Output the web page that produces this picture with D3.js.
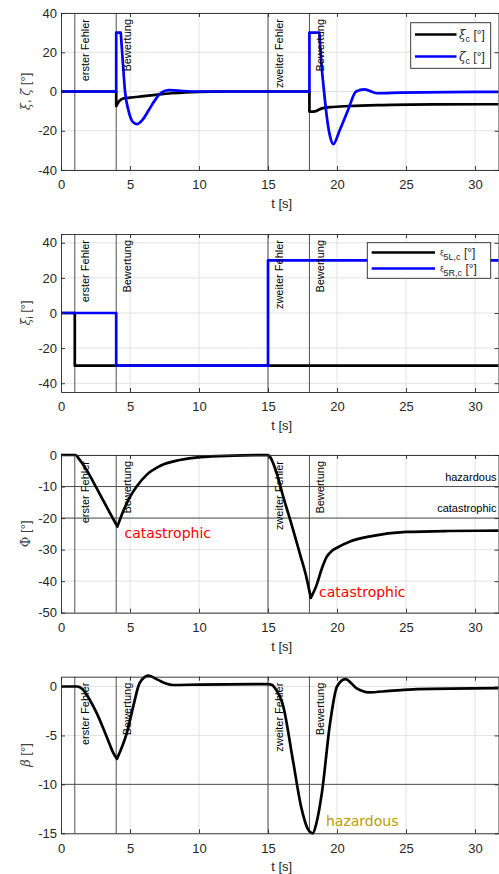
<!DOCTYPE html>
<html><head><meta charset="utf-8">
<script src="https://cdn.jsdelivr.net/npm/d3@7"></script>
<style>body{margin:0;background:#fff} svg{display:block}</style>
</head><body>
<svg id="c" width="499" height="874"></svg>
<script>
// ---------- data ----------
const tMax = 31.7;
const xTicks = [0, 5, 10, 15, 20, 25, 30];
const eventTimes = [1, 4, 15, 18];
const eventLabels = ["erster Fehler", "Bewertung", "zweiter Fehler", "Bewertung"];

// Panel 1: xi_c (black), zeta_c (blue) — segments joined by vertical steps
const xiC = [
  [[0,0],[4,0]],
  [[4,-7.4],[4.2,-5],[4.5,-3.6],[5,-3.1],[6,-2.4],[7,-1.6],[8,-0.9],[9,-0.4],[10,-0.15],[12,0],[18,0]],
  [[18,-10.3],[18.4,-10.1],[18.9,-8.6],[19.5,-8],[20.9,-7.4],[23.3,-6.9],[27,-6.6],[31.7,-6.5]]
];
const zetaC = [
  [[0,0],[4,0]],
  [[4,30],[4.33,30]],
  [[4.33,30],[4.45,18],[4.64,0],[4.9,-10],[5.2,-15.5],[5.5,-16.6],[5.9,-14.5],[6.4,-9],[6.9,-3.5],[7.3,-0.5],[7.8,0.7],[8.5,0.4],[9.5,0],[18,0]],
  [[18,30],[18.72,30]],
  [[18.72,30],[18.86,15],[19.06,0],[19.3,-15],[19.5,-23],[19.73,-26.8],[20.2,-19.6],[20.8,-9.4],[21.38,0],[21.98,1.1],[22.9,-0.9],[24.6,-0.6],[28,-0.3],[31.7,-0.2]]
];
// Panel 2: xi_5L,c (black), xi_5R,c (blue)
const xi5L = [[[0,0],[1,0],[1,-30],[31.7,-30]]];
const xi5R = [[[0,0],[4,0],[4,-30],[15,-30],[15,30],[31.7,30]]];
// Panel 3: Phi
const phi = [
  [[0,0],[1.05,0],[1.3,-1.2],[1.86,-4.8],[2.59,-10.6],[3.3,-16.4],[4.08,-22.7]],
  [[4.08,-22.7],[4.5,-17.9],[5.0,-13.3],[5.48,-10.0],[6.2,-6.3],[7.17,-3.5],[8.6,-1.6],[10.07,-0.66],[12.5,-0.2],[15,0]],
  [[15,0],[15.15,-0.6],[15.63,-5.8],[16.1,-13.2],[16.72,-22.2],[17.3,-31.2],[17.8,-39.1],[18.1,-45.3]],
  [[18.1,-45.3],[18.5,-41.5],[18.9,-36],[19.25,-32.3],[19.6,-30.5],[20,-29.4],[20.9,-27.5],[22.5,-25.7],[25,-24.4],[28,-24.1],[31.7,-24]]
];
// Panel 4: beta
const beta = [
  [[0,0],[1.2,0],[1.5,-0.2],[2.1,-1.4],[2.58,-2.7],[3.3,-5.1],[3.8,-6.8],[4.05,-7.4]],
  [[4.05,-7.4],[4.3,-6.6],[4.76,-4.8],[5.24,-2],[5.7,0.35],[6.33,1.1],[7,0.7],[7.6,0.3],[8.1,0.15],[10,0.2],[15,0.25],
   [15.3,0.15],[15.5,-0.16],[16.1,-2],[16.8,-7.5],[17.4,-12.3],[17.9,-14.6],[18.24,-15],[18.5,-14],[18.9,-10.9],[19.5,-3.7],
   [20,0],[20.6,0.75],[21.4,-0.16],[22.3,-0.6],[23.8,-0.45],[25.8,-0.27],[31.7,-0.17]]
];

// ---------- drawing ----------
const svg = d3.select("#c");
const FONT = "'Liberation Sans', Arial, sans-serif";
const x = d3.scaleLinear().domain([0, tMax]).range([61, 498.5]);

function segPath(y, segs) {
  const line = d3.line().x(d => x(d[0])).y(d => y(d[1])).curve(d3.curveMonotoneX);
  return segs.map((s, i) => { const p = line(s); return i === 0 ? p : "L" + p.slice(1); }).join("");
}

function panel(cfg) {
  const y = d3.scaleLinear().domain(cfg.yDomain).range([cfg.bottom, cfg.top]);
  const g = svg.append("g");
  const L = x.range()[0], R = x.range()[1];
  // grid
  g.selectAll(null).data(xTicks.filter(d => d > 0)).join("line")
    .attr("x1", d => x(d)).attr("x2", d => x(d)).attr("y1", cfg.top).attr("y2", cfg.bottom)
    .attr("stroke", "#e2e2e2").attr("stroke-width", 1);
  g.selectAll(null).data(cfg.yTicks).join("line")
    .attr("x1", L).attr("x2", R).attr("y1", d => y(d)).attr("y2", d => y(d))
    .attr("stroke", "#e2e2e2").attr("stroke-width", 1);
  // threshold lines
  (cfg.thresholds || []).forEach(th => {
    g.append("line").attr("x1", L).attr("x2", R).attr("y1", y(th.v)).attr("y2", y(th.v))
      .attr("stroke", "#505050").attr("stroke-width", 1);
    if (th.label) g.append("text").attr("x", R - 2).attr("y", y(th.v) - 6).attr("text-anchor", "end")
      .attr("font-family", FONT).attr("font-size", 11).attr("fill", "#000").text(th.label);
  });
  // event lines
  g.selectAll(null).data(eventTimes).join("line")
    .attr("x1", d => x(d)).attr("x2", d => x(d)).attr("y1", cfg.top).attr("y2", cfg.bottom)
    .attr("stroke", "#505050").attr("stroke-width", 1);
  // series
  cfg.series.forEach(s => {
    g.append("path").attr("d", segPath(y, s.data)).attr("fill", "none")
      .attr("stroke", s.color).attr("stroke-width", 2.7).attr("stroke-linejoin", "round");
  });
  // event labels
  eventTimes.forEach((t, i) => {
    g.append("text").attr("transform", `translate(${x(t) + 14.5},${cfg.top + 6}) rotate(-90)`)
      .attr("text-anchor", "end").attr("font-family", FONT).attr("font-size", 11).attr("fill", "#000")
      .text(eventLabels[i]);
  });
  // axes
  const axCol = "#262626";
  const bottom = g.append("g").attr("transform", `translate(0,${cfg.bottom})`)
    .call(d3.axisBottom(x).tickValues(xTicks).tickSize(-4).tickSizeOuter(0).tickPadding(10));
  const top = g.append("g").attr("transform", `translate(0,${cfg.top})`)
    .call(d3.axisTop(x).tickValues(xTicks).tickSize(-4).tickSizeOuter(0).tickFormat(""));
  const left = g.append("g").attr("transform", `translate(${L},0)`)
    .call(d3.axisLeft(y).tickValues(cfg.yTicks).tickSize(-4).tickSizeOuter(0).tickPadding(4).tickFormat(d3.format("d")));
  const right = g.append("g").attr("transform", `translate(${R},0)`)
    .call(d3.axisRight(y).tickValues(cfg.yTicks).tickSize(-4).tickSizeOuter(0).tickFormat(""));
  [bottom, top, left, right].forEach(a => {
    a.selectAll("path,line").attr("stroke", axCol).attr("stroke-width", 0.9);
    a.selectAll("text").attr("font-family", FONT).attr("font-size", 13).attr("fill", axCol);
  });
  left.selectAll("text").text(d => (d < 0 ? "-" : "") + Math.abs(d));
  // x label
  g.append("text").attr("x", (L + R) / 2 + 2).attr("y", cfg.bottom + 38).attr("text-anchor", "middle")
    .attr("font-family", FONT).attr("font-size", 13).attr("fill", axCol).text("t [s]");
  // y label
  const yl = g.append("text").attr("transform", `translate(30,${(cfg.top + cfg.bottom) / 2}) rotate(-90)`)
    .attr("text-anchor", "middle").attr("font-family", FONT).attr("font-size", 13).attr("fill", "#404040");
  cfg.ylabel(yl);
  // annotations
  (cfg.notes || []).forEach(n => {
    g.append("text").attr("x", x(n.t)).attr("y", n.y).attr("font-family", "'DejaVu Sans', sans-serif")
      .attr("font-size", 14).attr("fill", n.color).text(n.text);
  });
  return { g, y };
}

const greek = (sel, ch) => sel.append("tspan").attr("font-family", "'DejaVu Serif', serif").attr("font-style", "italic").text(ch);

// Panel 1
const p1 = panel({
  top: 13, bottom: 170, yDomain: [-40, 40], yTicks: [-40, -20, 0, 20, 40],
  series: [{ data: xiC, color: "#000" }, { data: zetaC, color: "#0000ff" }],
  ylabel: t => { greek(t, "ξ"); t.append("tspan").text(", "); greek(t, "ζ"); t.append("tspan").text(" [°]"); }
});
// Panel 2
const p2 = panel({
  top: 234, bottom: 392, yDomain: [-45, 45], yTicks: [-40, -20, 0, 20, 40],
  series: [{ data: xi5L, color: "#000" }, { data: xi5R, color: "#0000ff" }],
  ylabel: t => { greek(t, "ξ"); t.append("tspan").attr("font-size", 9).attr("dy", 3).text("i"); t.append("tspan").attr("dy", -3).text(" [°]"); }
});
// Panel 3
const p3 = panel({
  top: 455, bottom: 612.7, yDomain: [-50, 0], yTicks: [-50, -40, -30, -20, -10, 0],
  series: [{ data: phi, color: "#000" }],
  thresholds: [{ v: -10, label: "hazardous" }, { v: -20, label: "catastrophic" }],
  notes: [{ t: 4.6, y: 538, text: "catastrophic", color: "#ff0000" }, { t: 18.7, y: 597, text: "catastrophic", color: "#ff0000" }],
  ylabel: t => { t.append("tspan").attr("font-family", "'DejaVu Serif', serif").text("Φ"); t.append("tspan").text(" [°]"); }
});
// Panel 4
const p4 = panel({
  top: 676.7, bottom: 833.3, yDomain: [-15, 1], yTicks: [-15, -10, -5, 0],
  series: [{ data: beta, color: "#000" }],
  thresholds: [{ v: -10 }],
  notes: [{ t: 19.2, y: 826, text: "hazardous", color: "#bf9a00" }],
  ylabel: t => { greek(t, "β"); t.append("tspan").text(" [°]"); }
});

// Legends
function legend(box, items) {
  const g = svg.append("g");
  g.append("rect").attr("x", box.x).attr("y", box.y).attr("width", box.w).attr("height", box.h)
    .attr("fill", "#fff").attr("stroke", "#262626").attr("stroke-width", 0.9);
  items.forEach(it => {
    g.append("line").attr("x1", box.lx1).attr("x2", box.lx2).attr("y1", it.y).attr("y2", it.y)
      .attr("stroke", it.color).attr("stroke-width", 2.7);
    const t = g.append("text").attr("x", box.tx).attr("y", it.y + 4).attr("font-family", FONT)
      .attr("font-size", 12).attr("fill", "#262626");
    it.label(t);
  });
}
legend({ x: 410.7, y: 22.7, w: 80, h: 45.6, lx1: 415, lx2: 456.5, tx: 459 }, [
  { y: 34.5, color: "#000", label: t => { greek(t, "ξ"); t.append("tspan").attr("font-size", 9).attr("dy", 3).text("c"); t.append("tspan").attr("dy", -3).text(" [°]"); } },
  { y: 56.5, color: "#0000ff", label: t => { greek(t, "ζ"); t.append("tspan").attr("font-size", 9).attr("dy", 3).text("c"); t.append("tspan").attr("dy", -3).text(" [°]"); } }
]);
legend({ x: 367.3, y: 242.7, w: 123.4, h: 35.6, lx1: 371.7, lx2: 435, tx: 440 }, [
  { y: 252.5, color: "#000", label: t => { t.append("tspan").attr("font-size", 8).attr("dy", -2).text("ξ"); t.append("tspan").attr("font-size", 9).attr("dy", 5).text("5L,c"); t.append("tspan").attr("dy", -3).text(" [°]"); } },
  { y: 268.5, color: "#0000ff", label: t => { t.append("tspan").attr("font-size", 8).attr("dy", -2).text("ξ"); t.append("tspan").attr("font-size", 9).attr("dy", 5).text("5R,c"); t.append("tspan").attr("dy", -3).text(" [°]"); } }
]);
</script>
</body></html>
